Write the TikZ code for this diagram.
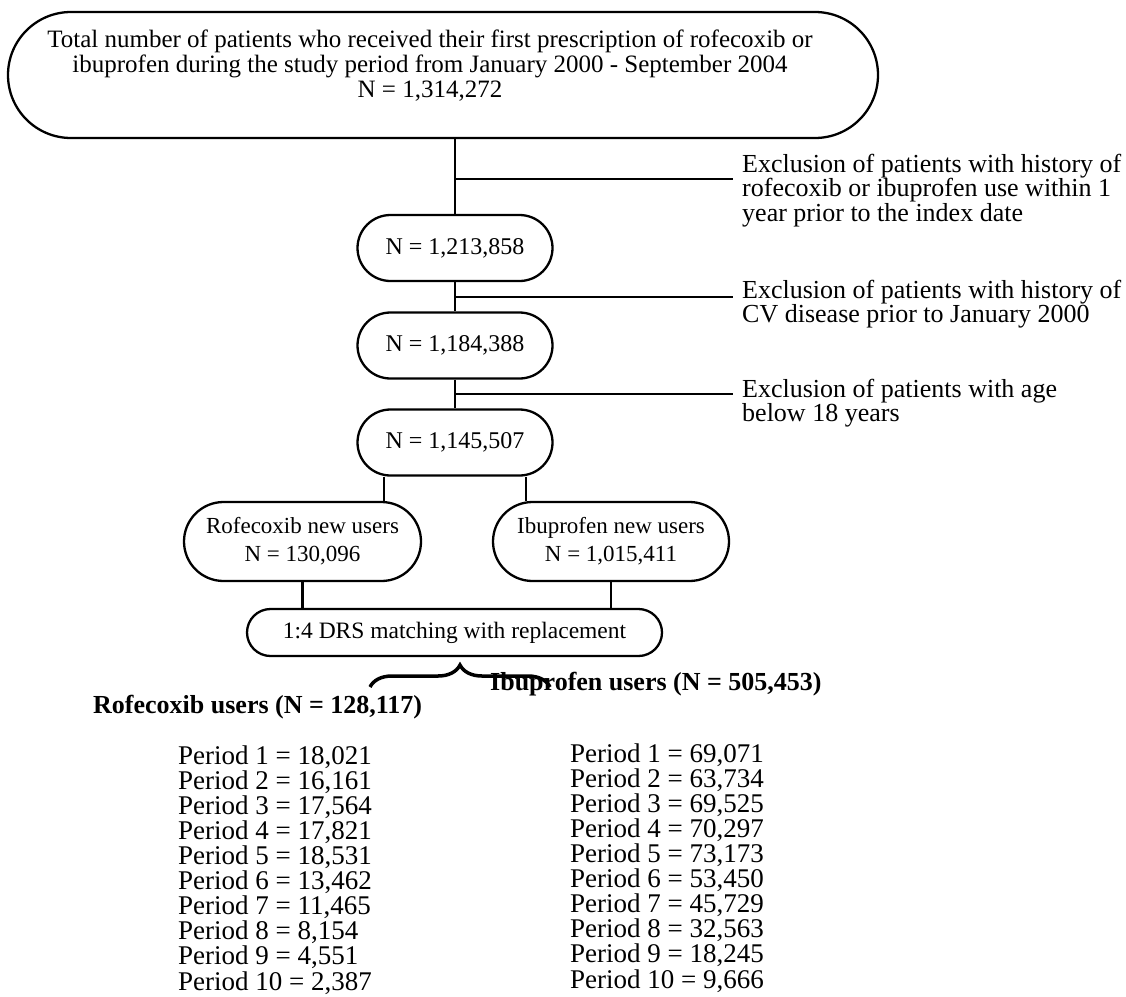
\documentclass[tikz,border=0pt]{standalone}
\usepackage{fontspec}
\setmainfont{Liberation Serif}
\usetikzlibrary{shapes.misc,decorations.pathreplacing,calc}
\begin{document}
\begin{tikzpicture}[x=1pt,y=-1pt,
  pill/.style={rounded rectangle, draw, line width=2.3pt, inner sep=0pt, align=center},
  conn/.style={line width=2.3pt},
  excl/.style={anchor=base west, align=left, inner sep=0pt, font=\fontsize{26}{24.5}\selectfont},
  head/.style={anchor=base west, inner sep=0pt, font=\fontsize{26}{26}\selectfont\bfseries},
  plist/.style={anchor=base west, align=left, inner sep=0pt, font=\fontsize{27}{25.1}\selectfont},
]
\useasboundingbox (0,0) rectangle (1126,996);

% top box
\node[pill, minimum width=870pt, minimum height=126pt] (top) at (443,75) {};
\node[align=center, inner sep=0pt, font=\fontsize{25}{25}\selectfont] (toptext) at (430,66)
  {Total number of patients who received their first prescription of rofecoxib or\\
   ibuprofen during the study period from January 2000 - September 2004\\
   N = 1,314,272};

% N boxes
\node[pill, minimum width=195pt, minimum height=66pt, font=\fontsize{24}{24}\selectfont] (b1) at (455,248) {N = 1,213,858};
\node[pill, minimum width=195pt, minimum height=66pt, font=\fontsize{24}{24}\selectfont] (b2) at (455,345.5) {N = 1,184,388};
\node[pill, minimum width=195pt, minimum height=66pt, font=\fontsize{24}{24}\selectfont] (b3) at (455,442.5) {N = 1,145,507};

% drug boxes
\node[pill, minimum width=237pt, minimum height=79pt, font=\fontsize{23}{28}\selectfont] (rofe) at (302.5,541.5) {Rofecoxib new users\\N = 130,096};
\node[pill, minimum width=236pt, minimum height=79pt, font=\fontsize{23}{28}\selectfont] (ibu) at (611,541.5) {Ibuprofen new users\\N = 1,015,411};

% matching box
\node[pill, minimum width=415pt, minimum height=47pt, font=\fontsize{23.5}{24}\selectfont] (match) at (454.5,632.5) {1:4 DRS matching with replacement};

% exclusion texts (anchor = baseline of last line)
\node[excl] (ex1) at (742,221) {Exclusion of patients with history of\\rofecoxib or ibuprofen use within 1\\year prior to the index date};
\node[excl] (ex2) at (742,322.5) {Exclusion of patients with history of\\CV disease prior to January 2000};
\node[excl] (ex3) at (742,421.5) {Exclusion of patients with age\\below 18 years};

\coordinate (e1) at (733,179);
\coordinate (e2) at (733,297);
\coordinate (e3) at (733,394);

% connectors
\draw[conn] (b1.north |- top.south) -- (b1.north);
\draw[conn] (b1.north |- e1) -- (e1);
\draw[conn] (b1.south) -- (b2.north);
\draw[conn] (b2.south |- e2) -- (e2);
\draw[conn] (b2.south) -- (b3.north);
\draw[conn] (b3.south |- e3) -- (e3);
\draw[conn] ([xshift=-71pt]b3.south) -- ([xshift=-71pt]b3.south |- rofe.north);
\draw[conn] ([xshift=71pt]b3.south) -- ([xshift=71pt]b3.south |- ibu.north);
\draw[conn] (rofe.south) -- (rofe.south |- match.north);
\draw[conn] (ibu.south) -- (ibu.south |- match.north);

% brace
\coordinate (brL) at (370,687);
\coordinate (brR) at (550,687);
\draw[line width=3.5pt, decorate, decoration={brace, amplitude=22pt}] (brL) -- (brR);

% group headings
\node[head] (hr) at (93,713) {Rofecoxib users (N = 128,117)};
\node[head] (hi) at (490,690) {Ibuprofen users (N = 505,453)};

% period lists (anchor = baseline of last line)
\node[plist] (pr) at (178,990) {Period 1 = 18,021\\Period 2 = 16,161\\Period 3 = 17,564\\Period 4 = 17,821\\Period 5 = 18,531\\Period 6 = 13,462\\Period 7 = 11,465\\Period 8 = 8,154\\Period 9 = 4,551\\Period 10 = 2,387};
\node[plist] (pi) at (570,988) {Period 1 = 69,071\\Period 2 = 63,734\\Period 3 = 69,525\\Period 4 = 70,297\\Period 5 = 73,173\\Period 6 = 53,450\\Period 7 = 45,729\\Period 8 = 32,563\\Period 9 = 18,245\\Period 10 = 9,666};
\end{tikzpicture}
\end{document}
